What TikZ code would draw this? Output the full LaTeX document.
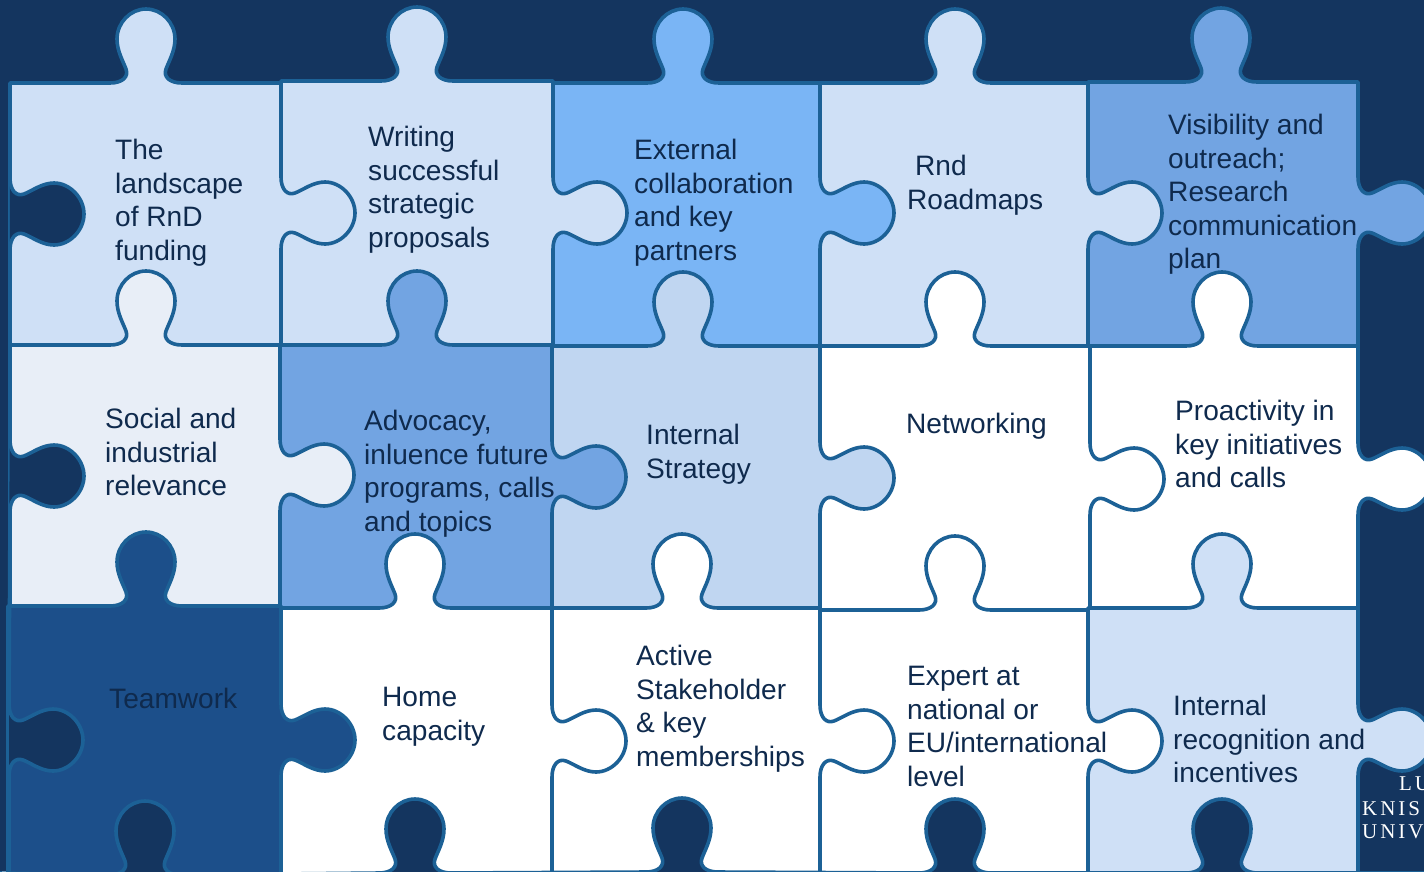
\documentclass[tikz,border=0pt]{standalone}
\usepackage{fontspec}
\setmainfont{Liberation Sans}
\newfontfamily\logofont[LetterSpace=14]{Liberation Serif}
\usepackage{tikz}
\definecolor{navyback}{HTML}{14355F}
\definecolor{edgeblue}{HTML}{1C6196}
\definecolor{pale}{HTML}{CFE0F6}
\definecolor{sky}{HTML}{7AB5F5}
\definecolor{midblue}{HTML}{72A4E2}
\definecolor{mist}{HTML}{E8EEF7}
\definecolor{steel}{HTML}{C0D6F1}
\definecolor{deep}{HTML}{1C4F8A}
\definecolor{inktext}{HTML}{0F2A4D}
% tab on a horizontal edge, going up
\newcommand{\toptab}[2]{-- (#1-36,#2) .. controls (#1-24,#2) and (#1-17,#2-6) .. (#1-20,#2-14)
 .. controls (#1-23,#2-22) and (#1-29,#2-32) .. (#1-29,#2-44)
 .. controls (#1-29,#2-60) and (#1-16,#2-74) .. (#1,#2-74)
 .. controls (#1+16,#2-74) and (#1+29,#2-60) .. (#1+29,#2-44)
 .. controls (#1+29,#2-32) and (#1+23,#2-22) .. (#1+20,#2-14)
 .. controls (#1+17,#2-6) and (#1+24,#2) .. (#1+36,#2)}
% tab on a vertical edge, going right
\newcommand{\righttab}[2]{-- (#1,#2-36) .. controls (#1,#2-24) and (#1+6,#2-17) .. (#1+14,#2-20)
 .. controls (#1+22,#2-23) and (#1+32,#2-31) .. (#1+44,#2-31)
 .. controls (#1+60,#2-31) and (#1+74,#2-16) .. (#1+74,#2)
 .. controls (#1+74,#2+16) and (#1+60,#2+31) .. (#1+44,#2+31)
 .. controls (#1+32,#2+31) and (#1+22,#2+23) .. (#1+14,#2+20)
 .. controls (#1+6,#2+17) and (#1,#2+24) .. (#1,#2+36)}
\tikzset{
  piece/.style={draw=edgeblue,line width=3.6pt,line join=round},
  piecetext/.style={anchor=north west,inner sep=0pt,align=left,text=inktext,
    font=\fontsize{28.1}{33.6}\selectfont},
  logotext/.style={anchor=north west,inner sep=0pt,text=white,
    font=\logofont\fontsize{21}{25}\selectfont}
}
\begin{document}
\begin{tikzpicture}[x=1pt,y=-1pt]
\useasboundingbox (0,0) rectangle (1424,871);
\clip (0,0) rectangle (1424,871);
\fill[navyback] (0,0) rectangle (1424,871);
\foreach \xa/\xb/\ya/\yb/\tx/\ty/\col in {
  1088/1358/82/346/1221/213/midblue, 820/1088/83/346/955/213/pale, 553/820/83/346/683/213/sky,
  281/553/81/345/417/213/pale, 10/281/83/345/146/213/pale,
  1090/1358/346/608/1222/479/white, 820/1090/346/610/955/479/white, 552/820/346/608/683/478/steel,
  280/552/345/608/417/477/midblue, 10/280/345/606/146/475/mist,
  1088/1358/608/880/1222/740/pale, 820/1088/610/880/955/741/white, 552/820/608/880/682/741/white,
  281/552/608/880/415/741/white, 8/281/606/880/146/740/deep}
\draw[piece,fill=\col] (\xa,\ya) \toptab{\tx}{\ya} -- (\xb,\ya) \righttab{\xb}{\ty} -- (\xb,\yb) -- (\xa,\yb) -- cycle;
% dark tabs from the left and from below
\draw[piece,fill=navyback] (10,83) \righttab{10}{214} \righttab{10}{476} \righttab{9}{740} -- (9,880);
\draw[piece,fill=navyback] (0,873) \toptab{145}{875} \toptab{415}{873} \toptab{682}{872} \toptab{955}{873} \toptab{1222}{873} -- (1424,873);
\node[piecetext] (landscape) at (115,139) {The\\landscape\\of RnD\\funding};
\node[piecetext] (writing) at (368,126) {Writing\\successful\\strategic\\proposals};
\node[piecetext] (external) at (634,139) {External\\collaboration\\and key\\partners};
\node[piecetext] (roadmaps) at (907,155) {\hspace{8pt}Rnd\\Roadmaps};
\node[piecetext] (visibility) at (1168,114) {Visibility and\\outreach;\\Research\\communication\\plan};
\node[piecetext] (social) at (105,408) {Social and\\industrial\\relevance};
\node[piecetext] (advocacy) at (364,410) {Advocacy,\\inluence future\\programs, calls\\and topics};
\node[piecetext] (strategy) at (646,424) {Internal\\Strategy};
\node[piecetext] (networking) at (906,413) {Networking};
\node[piecetext] (proactivity) at (1175,400) {Proactivity in\\key initiatives\\and calls};
\node[piecetext] (teamwork) at (109,688) {Teamwork};
\node[piecetext] (home) at (382,687) {Home\\capacity};
\node[piecetext] (stakeholder) at (636,645) {Active\\Stakeholder\\\& key\\memberships};
\node[piecetext] (expert) at (907,666) {Expert at\\national or\\EU/international\\level};
\node[piecetext] (recognition) at (1173,695) {Internal\\recognition and\\incentives};
\node[logotext] (logoa) at (1399,777) {LU};
\node[logotext] (logob) at (1362,801) {KNIS};
\node[logotext] (logoc) at (1362,825) {UNIV};
\end{tikzpicture}
\end{document}
